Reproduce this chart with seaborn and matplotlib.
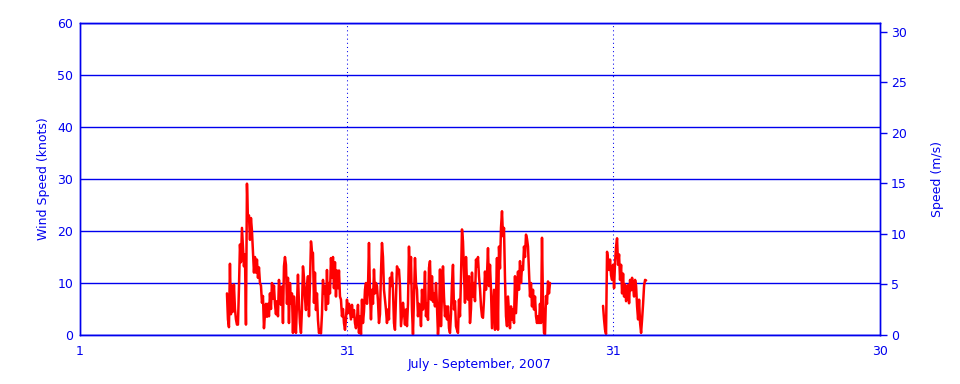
import numpy as np
import pandas as pd
import matplotlib
matplotlib.use('Agg')
import matplotlib.pyplot as plt
import seaborn as sns

# 데이터: 7월 1일 0시부터의 경과 일수 기준, 풍속(knots)
seg1_start, seg1_end = 16.9, 54.05
seg1_knots = [
  8, 3, 1.5, 13.7, 4, 9.5, 4.5, 9.7, 5, 3,
  2, 2, 9, 17.4, 14, 20.6, 17, 13.2, 15.5, 2,
  29.1, 22, 23, 18.3, 22.5, 20, 16, 12, 15, 12,
  14.5, 11, 13, 10, 9.5, 6.2, 7.5, 1.3, 4, 6,
  3.5, 6, 3.6, 8, 5, 10, 7, 9.5, 6, 4,
  6.5, 3.6, 10.6, 8, 5.8, 9.3, 2.3, 13.2, 15, 13.5,
  6, 11, 2.3, 10, 6, 8, 0.4, 7.4, 3, 0.4,
  6, 11.6, 6, 2.3, 0.4, 5, 13.2, 11, 7, 4.8,
  9.3, 11.3, 3.6, 10, 18, 16, 15.8, 6.2, 12, 4.8,
  8, 2.9, 0.4, 1, 0.3, 4, 10.6, 8, 9.3, 4.8,
  12.5, 6, 10, 8, 14.8, 11, 15, 9, 14, 7.4,
  12.4, 9, 12.4, 7.4, 6.8, 3.6, 5, 2.3, 1, 3,
  6.8, 4.2, 6, 4.5,
  3, 5.8, 3.5, 4.8, 2.3, 1.3, 3, 5.8, 0.4, 3.6,
  0.1, 6.8, 2.3, 4.5, 8.7, 10, 6, 9, 17.7, 8,
  3, 8.7, 6, 12.6, 8, 10, 9.4, 6.5, 2.3, 4,
  12, 17.7, 15, 8.7, 6.8, 4.9, 2.3, 4.9, 3, 11,
  9.4, 12, 8.7, 2.3, 1, 7, 13.2, 12.5, 12.6, 9.4,
  1.7, 4, 6.2, 4.3, 2, 4.9, 1.7, 6, 17, 10,
  15, 4.9, 0.1, 7, 14.8, 10, 8.7, 3.6, 6, 5.5,
  1.7, 8.7, 4.9, 7, 12.2, 3.6, 6, 2.9, 12.9, 14.2,
  6.8, 11.3, 6.4, 8, 5.5, 10, 5.5, 0.1, 3, 12.6,
  1.7, 8, 13.2, 7.4, 3.6, 5.5, 3, 5.5, 1.3, 0.4,
  4, 10, 13.5, 4.9, 6.5, 1.7, 1, 0.4, 6.8, 3.6,
  11, 20.3, 18, 12, 6.2, 15, 10, 6.8, 11.3, 2.3,
  5, 12, 7.4, 10, 6.5, 14.5, 13.2, 15, 11.3, 9,
  5.5, 3.6, 3.3, 6.8, 12.2, 8.7, 11.5, 16.7, 9.4, 13.5,
  8.7, 1.3, 5, 8.7, 1, 7, 14.8, 1, 17, 12.8,
  20.6, 23.8, 19, 20.6, 10.9, 3.6, 1.7, 7.4, 4.2, 1.3,
  5.5, 3, 4.9, 2.3, 11.3, 4.2, 8, 12.2, 8.7, 14.2,
  10, 13.2, 12.5, 17, 15, 19.3, 18.5, 17, 12.2, 7.4,
  10, 5.5, 8.7, 4.9, 7.4, 3.6, 2.3, 3.6, 2.3, 6,
  2.3, 18.7, 6, 0.4, 0.1, 7.5, 6, 10.3, 8, 10,
]

seg2_start, seg2_end = 60.15, 65.1
seg2_knots = [
  5.6, 3, 1, 0.2, 16, 14.5, 12.5, 14.5, 11.5, 10.6,
  13.5, 9, 14, 17, 18.6, 13.5, 15.5, 10.6, 13.5, 8,
  11.8, 7.4, 9.7, 6.5, 7.4, 9.6, 6.1, 10.6, 8.6, 11,
  9.2, 7.4, 10.6, 9.5, 5.5, 3, 6.8, 2.3, 0.4, 3,
  6, 9.5, 10.6, 10.5,
]

# x축 눈금 (7월 1일, 7월 31일, 8월 31일, 9월 30일)
tick_pos = [0, 30.67, 61.33, 92]
tick_labels = ['1', '31', '31', '30']
month_lines = [30.67, 61.33]

KNOT_TO_MS = 0.514444

df = pd.concat([
  pd.DataFrame({'day': np.linspace(seg1_start, seg1_end, len(seg1_knots)),
                'knots': seg1_knots, 'seg': 1}),
  pd.DataFrame({'day': np.linspace(seg2_start, seg2_end, len(seg2_knots)),
                'knots': seg2_knots, 'seg': 2}),
])

sns.set_style('white')
plt.rcParams['font.family'] = ['DejaVu Sans']
blue = '#0000ee'

fig = plt.figure(figsize=(9.6, 3.84), dpi=100)
ax = fig.add_axes([80 / 960, 1 - 335 / 384, 800 / 960, 312 / 384])

sns.lineplot(data=df, x='day', y='knots', units='seg', estimator=None,
             color='red', lw=1.8, ax=ax, legend=False)

ax.set_xlim(0, 92)
ax.set_ylim(0, 60)
ax.set_yticks(range(0, 61, 10))
ax.set_xticks(tick_pos)
ax.set_xticklabels(tick_labels)
ax.yaxis.grid(True, color=blue, lw=1)
ax.set_axisbelow(True)
for x in month_lines:
  ax.axvline(x, color=blue, ls=(0, (1, 3)), lw=0.75, zorder=1)

ax.tick_params(axis='y', length=0, pad=5, labelcolor=blue, labelsize=9)
ax.tick_params(axis='x', length=0, pad=7, labelcolor=blue, labelsize=9)
ax.set_xlabel('July - September, 2007', color=blue, fontsize=9, labelpad=0)
ax.set_ylabel('Wind Speed (knots)', color=blue, fontsize=9, labelpad=5)

ax2 = ax.twinx()
ax2.set_ylim(0, 60 * KNOT_TO_MS)
ax2.set_yticks(range(0, 31, 5))
ax2.tick_params(axis='y', colors=blue, length=5, width=1, direction='out',
                labelsize=9, pad=3)
ax2.set_ylabel('Speed (m/s)', color=blue, fontsize=9, labelpad=17)

for a in (ax, ax2):
  for s in a.spines.values():
    s.set_color(blue)
    s.set_linewidth(1)
    s.set_visible(True)

fig.savefig('out.png', dpi=100)
